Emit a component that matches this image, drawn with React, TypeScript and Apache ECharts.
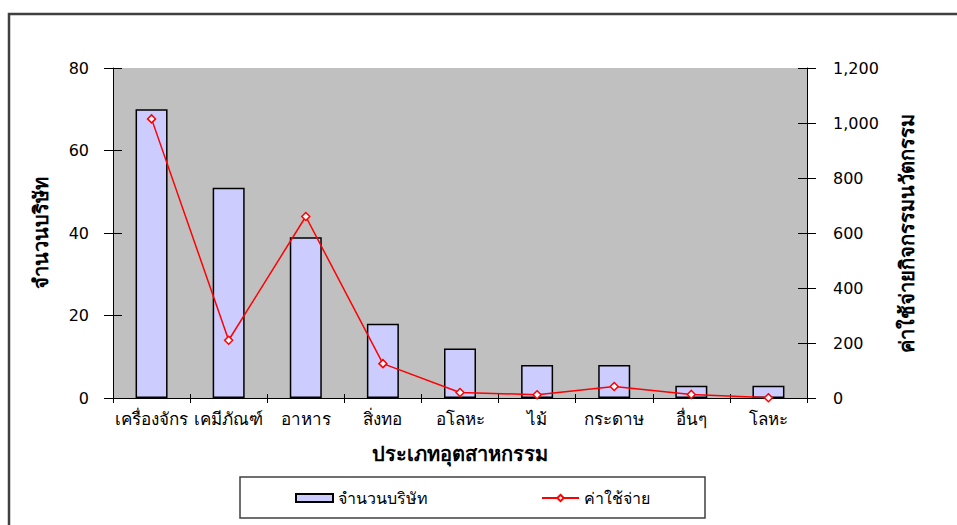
import React, { useEffect, useRef } from "react";
import * as echarts from "echarts";

const categories = ["เครื่องจักร", "เคมีภัณฑ์", "อาหาร", "สิ่งทอ", "อโลหะ", "ไม้", "กระดาษ", "อื่นๆ", "โลหะ"];
const companyCounts = [70, 51, 39, 18, 12, 8, 8, 3, 3];
const expenses = [1015, 210, 660, 125, 20, 12, 42, 13, 1];
const leftTicks = { min: 0, max: 80, interval: 20 };
const rightTicks = { min: 0, max: 1200, interval: 200 };

const FONT = "DejaVu Sans, Noto Sans, sans-serif";

export default function App() {
  const ref = useRef<HTMLDivElement>(null);
  useEffect(() => {
    document.body.style.margin = "0";
    const chart = echarts.init(ref.current!, null, { renderer: "svg" });
    const axisLine = { show: true, lineStyle: { color: "#000", width: 1 } };
    const tickOut = { show: true, length: 9, lineStyle: { color: "#000", width: 1 } };
    const tickIn = { show: true, inside: true, length: 9, lineStyle: { color: "#000", width: 1 } };
    const titleStyle = { fontWeight: "bold", fontSize: 20, color: "#000", fontFamily: FONT };
    chart.setOption({
      animation: false,
      backgroundColor: "#fff",
      textStyle: { fontFamily: FONT },
      grid: { left: 113, right: 150, top: 68, bottom: 127, show: true, backgroundColor: "#C0C0C0", borderWidth: 0 },
      legend: {
        left: 240,
        top: 477,
        padding: [13, 55, 12, 55],
        itemGap: 113,
        itemWidth: 37,
        itemHeight: 8,
        borderColor: "#404040",
        borderWidth: 1.5,
        textStyle: { fontFamily: FONT, fontSize: 16, color: "#000" },
        data: [
          { name: "จำนวนบริษัท", icon: "rect" },
          { name: "ค่าใช้จ่าย" },
        ],
      },
      xAxis: [
        {
          type: "category",
          data: categories,
          axisLine,
          axisTick: { ...tickOut, length: 5 },
          axisLabel: { interval: 0, color: "#000", fontSize: 17, margin: 12, fontFamily: FONT },
          name: "ประเภทอุตสาหกรรม",
          nameLocation: "middle",
          nameGap: 46,
          nameTextStyle: titleStyle,
        },
        {
          type: "category",
          data: categories,
          position: "bottom",
          axisLine: { show: false },
          axisTick: { ...tickIn, length: 4 },
          axisLabel: { show: false },
        },
      ],
      yAxis: [
        {
          type: "value",
          position: "left",
          ...leftTicks,
          axisLine,
          axisTick: tickOut,
          splitLine: { show: false },
          axisLabel: { color: "#000", fontSize: 16, margin: 24, fontFamily: FONT },
          name: "จำนวนบริษัท",
          nameLocation: "middle",
          nameRotate: 90,
          nameGap: 62,
          nameTextStyle: titleStyle,
        },
        {
          type: "value",
          position: "right",
          ...rightTicks,
          axisLine,
          axisTick: tickOut,
          splitLine: { show: false },
          axisLabel: {
            color: "#000",
            fontSize: 16,
            margin: 26,
            fontFamily: FONT,
            formatter: (v: number) => v.toLocaleString("en-US"),
          },
          name: "ค่าใช้จ่ายกิจกรรมนวัตกรรม",
          nameLocation: "middle",
          nameRotate: 90,
          nameGap: 90,
          nameTextStyle: titleStyle,
        },
        {
          type: "value",
          position: "left",
          ...leftTicks,
          axisLine: { show: false },
          axisTick: tickIn,
          splitLine: { show: false },
          axisLabel: { show: false },
        },
        {
          type: "value",
          position: "right",
          ...rightTicks,
          axisLine: { show: false },
          axisTick: tickIn,
          splitLine: { show: false },
          axisLabel: { show: false },
        },
      ],
      series: [
        {
          name: "จำนวนบริษัท",
          type: "bar",
          data: companyCounts,
          barWidth: 32,
          itemStyle: { color: "#CCCCFF", borderColor: "#000", borderWidth: 1.5 },
        },
        {
          name: "ค่าใช้จ่าย",
          type: "line",
          yAxisIndex: 1,
          data: expenses,
          symbol: "diamond",
          symbolSize: 8,
          lineStyle: { color: "#FF0000", width: 1.5 },
          itemStyle: { color: "#FFFFFF", borderColor: "#FF0000", borderWidth: 1.5 },
        },
      ],
      graphic: [
        {
          type: "rect",
          shape: { x: 9, y: 14, width: 1000, height: 600 },
          style: { fill: "none", stroke: "#404040", lineWidth: 2.5 },
          silent: true,
        },
      ],
    });
    return () => chart.dispose();
  }, []);
  return <div ref={ref} style={{ width: 957, height: 525 }} />;
}
